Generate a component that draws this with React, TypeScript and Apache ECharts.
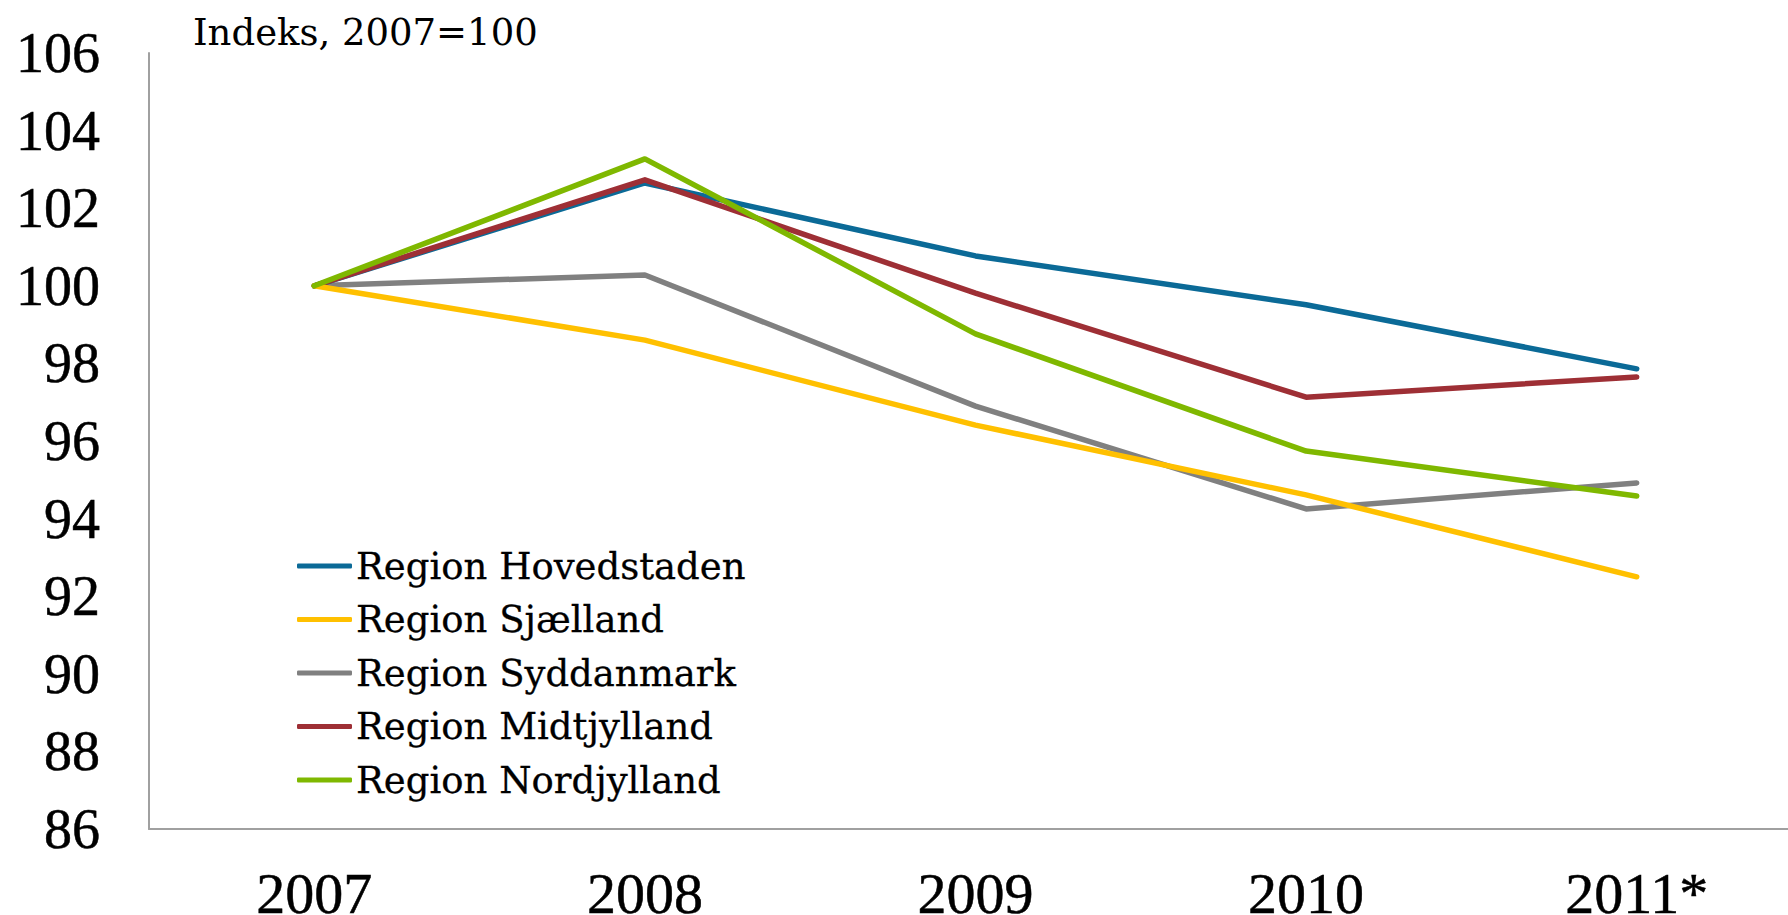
import React, { useEffect, useRef } from "react";
import * as echarts from "echarts";

const categories = ["2007", "2008", "2009", "2010", "2011*"];
const seriesNames = [
  "Region Hovedstaden",
  "Region Sjælland",
  "Region Syddanmark",
  "Region Midtjylland",
  "Region Nordjylland",
];
const hovedstaden = [100, 102.65, 100.77, 99.51, 97.86];
const sjaelland = [100, 98.6, 96.41, 94.61, 92.5];
const syddanmark = [100, 100.28, 96.9, 94.25, 94.92];
const midtjylland = [100, 102.73, 99.81, 97.13, 97.65];
const nordjylland = [100, 103.27, 98.76, 95.74, 94.58];
const colors = ["#0B6A97", "#FFC000", "#808080", "#9E2F35", "#7FB800"];
const layerOrder = [3, 5, 2, 4, 6];
const yMin = 86;
const yMax = 106;
const yStep = 2;
const titleText = "Indeks, 2007=100";

export default function App() {
  const ref = useRef<HTMLDivElement>(null);
  useEffect(() => {
    if (!ref.current) return;
    const chart = echarts.init(ref.current, undefined, { renderer: "svg" });
    const data = [hovedstaden, sjaelland, syddanmark, midtjylland, nordjylland];
    chart.setOption({
      animation: false,
      backgroundColor: "#ffffff",
      title: {
        text: titleText,
        left: 193,
        top: 14,
        padding: 0,
        textStyle: {
          fontFamily: "DejaVu Serif",
          fontSize: 37,
          fontWeight: "normal",
          color: "#000000",
        },
      },
      legend: {
        orient: "vertical",
        left: 297,
        top: 546,
        padding: 0,
        itemWidth: 55,
        itemHeight: 5,
        itemGap: 13.5,
        icon: "roundRect",
        data: seriesNames,
        textStyle: {
          fontFamily: "DejaVu Serif",
          fontSize: 37,
          lineHeight: 40,
          color: "#000000",
          textBorderColor: "#000000",
          textBorderWidth: 0.3,
          padding: [0, 0, 0, -1],
        },
      },
      grid: {
        left: 149,
        top: 53,
        width: 1653,
        bottom: 86,
        containLabel: false,
        outerBoundsMode: "none",
      },
      xAxis: {
        type: "category",
        data: categories,
        boundaryGap: true,
        axisLine: { show: true, lineStyle: { color: "#a0a0a0", width: 2 } },
        axisTick: { show: false },
        splitLine: { show: false },
        axisLabel: {
          fontFamily: "Liberation Serif",
          fontSize: 58,
          lineHeight: 40,
          color: "#000000",
          textBorderColor: "#000000",
          textBorderWidth: 0.5,
          margin: 44,
        },
      },
      yAxis: {
        type: "value",
        min: yMin,
        max: yMax,
        interval: yStep,
        axisLine: { show: true, lineStyle: { color: "#a0a0a0", width: 2 } },
        axisTick: { show: false },
        splitLine: { show: false },
        axisLabel: {
          fontFamily: "Liberation Serif",
          fontSize: 56,
          color: "#000000",
          textBorderColor: "#000000",
          textBorderWidth: 0.5,
          margin: 49,
        },
      },
      series: seriesNames.map((name, i) => ({
        name,
        type: "line",
        data: data[i],
        z: layerOrder[i],
        symbol: "none",
        showSymbol: false,
        color: colors[i],
        lineStyle: { color: colors[i], width: 5.5, cap: "round", join: "round" },
        itemStyle: { color: colors[i] },
      })),
    });
    return () => chart.dispose();
  }, []);
  return (
    <div
      ref={ref}
      style={{ position: "absolute", left: 0, top: 0, width: 1788, height: 915 }}
    />
  );
}
